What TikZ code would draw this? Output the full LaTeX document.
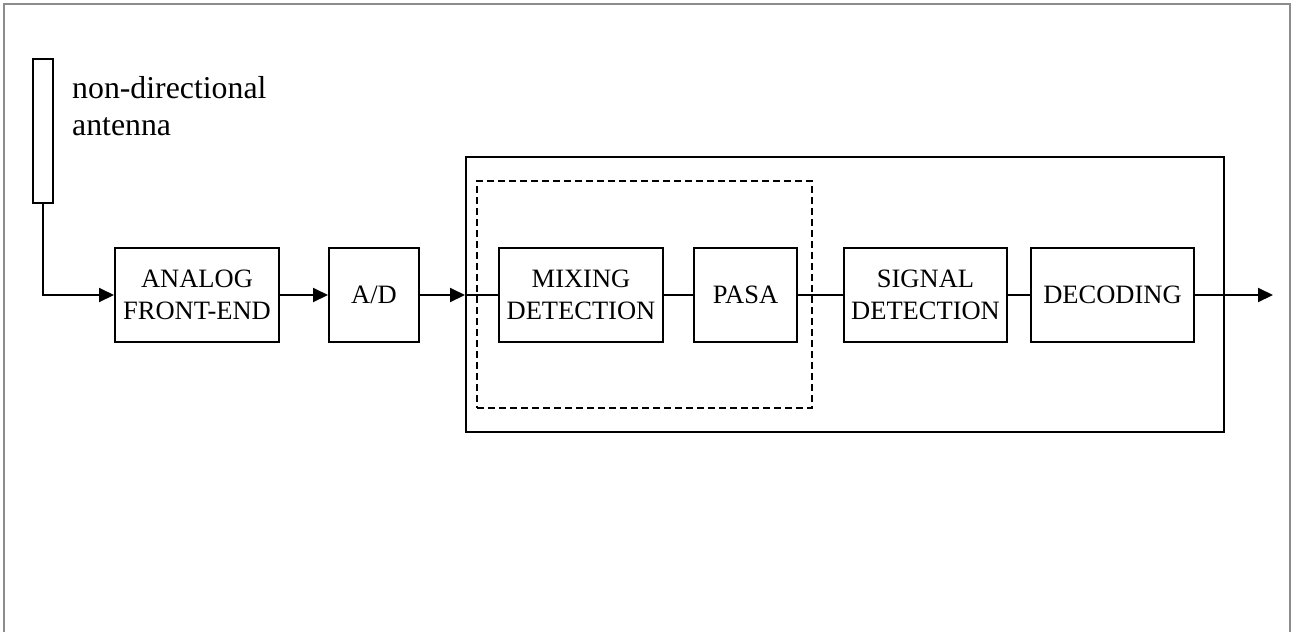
\documentclass[tikz,border=0pt]{standalone}
\usepackage{fontspec}
\setmainfont{Liberation Serif}
\usetikzlibrary{arrows.meta}
\begin{document}
\begin{tikzpicture}[x=1pt,y=-1pt,
  blk/.style={draw=black, line width=2pt, inner sep=0pt, align=center,
    font=\fontsize{26.5}{32}\selectfont},
  conn/.style={line width=2pt},
  arr/.style={line width=2pt, -{Triangle[length=15pt,width=14pt]}},
  frame/.style={draw=black, line width=2pt, inner sep=0pt}
]
\useasboundingbox (0,0) rectangle (1296,632);
% gray frame
\draw[draw={rgb,255:red,140;green,140;blue,140}, line width=2.5pt] (4,632) -- (4,4) -- (1290,4) -- (1290,632);
% outer box and dashed box
\node[frame, minimum width=758pt, minimum height=275pt] (big) at (845,294.5) {};
\node[frame, dash pattern=on 7pt off 4pt, minimum width=335pt, minimum height=227pt] (dsh) at (644.5,294.5) {};
% antenna
\node[frame, minimum width=20pt, minimum height=144pt] (ant) at (43,131) {};
\node[anchor=base west, align=left, inner sep=0pt, font=\fontsize{31.8}{37}\selectfont] (lbl) at (72,135) {non-directional\\antenna};
% blocks
\node[blk, minimum width=164pt, minimum height=94pt] (afe) at (197,295) {ANALOG\\FRONT-END};
\node[blk, minimum width=90pt, minimum height=94pt] (ad) at (374,295) {A/D};
\node[blk, minimum width=164pt, minimum height=94pt] (mix) at (581,295) {MIXING\\DETECTION};
\node[blk, minimum width=103pt, minimum height=94pt] (pasa) at (745.5,295) {PASA};
\node[blk, minimum width=163pt, minimum height=94pt] (sig) at (925.5,295) {SIGNAL\\DETECTION};
\node[blk, minimum width=163pt, minimum height=94pt] (dec) at (1112.5,295) {DECODING};
\coordinate (out) at (1273,295);
% connectors
\draw[arr] (ant.south) |- (afe.west);
\draw[arr] (afe.east) -- (ad.west);
\draw[arr] (ad.east) -- (big.west |- ad.east);
\draw[conn] (big.west |- mix.west) -- (mix.west);
\draw[conn] (mix.east) -- (pasa.west);
\draw[conn] (pasa.east) -- (sig.west);
\draw[conn] (sig.east) -- (dec.west);
\draw[arr] (dec.east) -- (out);
\end{tikzpicture}
\end{document}
